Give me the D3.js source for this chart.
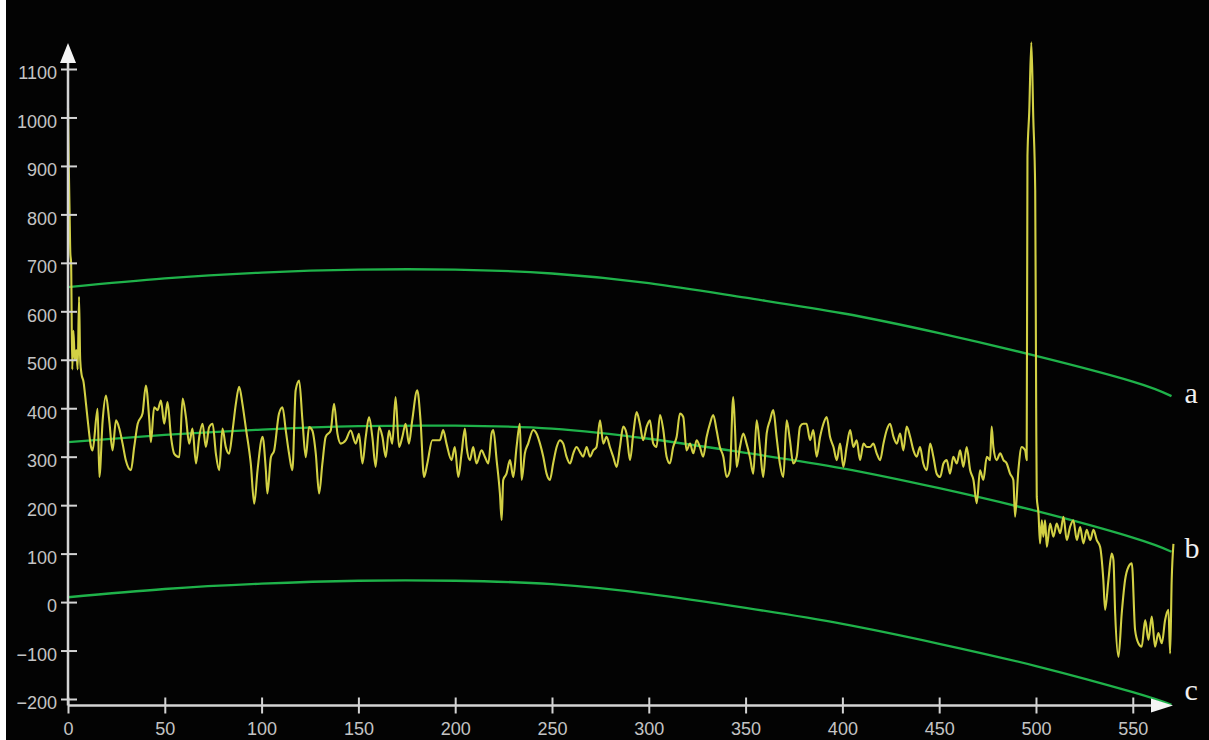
<!DOCTYPE html>
<html>
<head>
<meta charset="utf-8">
<script src="https://cdn.jsdelivr.net/npm/d3@7"></script>
<style>
  html, body { margin: 0; padding: 0; background: #fff; }
  svg { display: block; }
</style>
</head>
<body>
<svg id="canvas"></svg>
<script>
// tick values of both axes
let xTicks = [0, 50, 100, 150, 200, 250, 300, 350, 400, 450, 500, 550]
let yTicks = [-200, -100, 0, 100, 200, 300, 400, 500, 600, 700, 800, 900, 1000, 1100]

// the three green boundary curves, read at these x positions
let curveX = [0, 50, 100, 150, 200, 250, 300, 350, 400, 450, 500, 550, 570]
let curveA = [650, 668, 680, 686, 686, 678, 658, 628, 596, 555, 508, 455, 425]
let curveB = [330, 345, 356, 363, 364, 358, 337, 308, 276, 235, 188, 133, 104]
let curveC = [10, 27, 38, 44, 44, 37, 17, -12, -45, -86, -132, -186, -212]
let curveNames = ['a', 'b', 'c']

// the yellow signal
let signalX = [
    0, 0.4, 0.8, 1.2, 1.6, 2.2, 2.8, 3.5, 4.3, 5.0, 5.7, 6.3, 7, 8, 9.3,
    10.2, 11.9, 12.7, 15.3, 16.2, 17.9, 19.6, 21.3, 23.0, 24.8, 26.5, 28.2, 29.9, 32.5, 34.2, 36.0, 38.5,
    40.2, 42.0, 42.8, 44.5, 46.3, 48.0, 49.7, 51.4, 53.2, 54.9, 57.5, 59.2, 60.9, 62.6, 64.3, 66.1, 67.8,
    69.5, 71.2, 72.9, 74.7, 76.4, 78.1, 79.8, 81.5, 83.2, 85.0, 86.7, 88.4, 90.1, 91.8, 94.4, 96.2, 97.9,
    100.5, 102.2, 103.0, 104.8, 106.5, 109.0, 110.8, 112.5, 114.2, 115.9, 117.6, 119.4, 121.1, 122.8,
    124.5, 126.2, 128.0, 129.7, 131.4, 133.1, 135.7, 137.4, 139.2, 140.9, 143.5, 146.0, 148.6, 150.3,
    152.1, 153.8, 155.5, 157.2, 158.9, 160.7, 162.4, 164.1, 165.8, 167.5, 169.2, 171.0, 172.7, 174.4,
    176.1, 177.8, 180.4, 182.1, 183.9, 185.6, 188.2,
    192.1, 193.8, 195.5, 198.1, 199.8, 201.6, 203.3, 205.0, 205.9, 207.6, 209.3, 211.0, 213.6, 215.3,
    217.1, 218.8, 219.7, 221.4, 223.1, 224.0, 224.8, 226.5, 228.3, 230.0, 231.7, 233.4, 234.3, 236.0,
    237.7, 240.3, 242.0, 243.8, 245.5, 247.2, 248.9, 250.6, 252.4, 254.1, 255.8, 257.5, 259.3, 261.0,
    262.7, 264.4, 266.1, 267.9, 269.6, 271.3, 273.0, 274.8, 276.5, 278.2, 279.9, 281.6, 283.4, 285.1,
    286.8, 288.5, 290.3, 292.0, 293.7, 295.4, 297.1, 298.9, 300.6, 302.3, 304.0, 305.8, 307.5, 309.2,
    310.9, 312.6, 314.4, 316.1, 317.8, 319.5, 321.3, 323.0, 324.7, 326.4, 328.1, 329.9, 331.6, 333.3,
    335.0, 336.7, 338.5, 340.2, 341.9, 343.6, 344.5, 345.4, 347.1, 348.8, 350.5, 352.2, 354.0, 355.7,
    357.4, 359.1, 360.9, 362.6, 364.3, 366.0, 367.7, 369.5, 371.2, 372.9, 374.6, 376.4, 378.1, 379.8, 381.5,
    383.3, 385.0, 386.7, 388.5, 390.2, 391.9, 393.6, 395.4, 397.1, 398.8, 400.5, 402.2, 404.0, 405.7,
    407.4, 409.1, 410.9, 412.6, 414.3, 416.0, 417.7, 419.5, 421.2, 422.9, 424.6, 426.4, 428.1, 429.8,
    431.5, 433.2, 435.0, 436.7, 438.4, 440.1, 441.8, 443.6, 445.3, 447.0, 448.7, 450.5, 452.2, 453.9,
    455.6, 457.3, 459.1, 460.8, 462.5, 464.2, 466.0, 467.7, 469.4, 471.1, 472.8, 474.6, 476.3, 477.1,
    478.0, 479.7, 481.5, 483.2, 484.9, 486.6, 488.3, 489.2, 490.9, 492.6, 494.4, 495.2,
    495.6, 496.5, 497.6, 498.6, 499.6, 500.1, 500.4,
    501.3, 502.1, 503.0, 503.8, 504.7, 505.6, 507.3, 509.0, 510.7, 512.5, 514.2, 515.9, 517.6, 519.3,
    521.1, 522.8, 524.5, 526.2, 528.0, 529.7, 531.4, 533.1, 534.8, 535.7, 537.4, 539.1, 540.0, 540.9,
    542.6, 544.3, 546.0, 547.8, 549.5, 551.2, 552.9, 554.6, 556.4, 558.1, 559.8, 561.5, 563.2, 565.0,
    566.7, 568.4, 569.3, 570.1, 571.0
]
let signalY = [
    1020, 900, 810, 720, 700, 480, 560, 500, 520, 480, 630, 500, 470, 455, 409,
    375, 320, 313, 399, 258, 375, 426, 375, 313, 375, 358, 327, 292, 272, 320, 368, 389,
    447, 375, 330, 402, 396, 416, 368, 413, 341, 306, 299, 420, 382, 327, 358, 286, 341,
    368, 320, 361, 368, 306, 272, 358, 320, 306, 354, 409, 444, 409, 361, 286, 203, 272,
    341, 272, 224, 299, 313, 389, 402, 354, 306, 272, 437, 457, 375, 299,
    361, 354, 306, 224, 286, 341, 354, 409, 347, 327, 334, 354, 327, 347,
    286, 341, 382, 341, 279, 361, 341, 299, 354, 327, 423, 320, 341, 368,
    327, 375, 437, 375, 258, 286, 334,
    334, 355, 327, 293, 320, 258, 307, 358, 320, 293, 320, 286, 313, 300,
    286, 348, 355, 293, 224, 169, 252, 265, 293, 258, 320, 368, 252, 307,
    327, 355, 348, 327, 300, 265, 252, 286, 320, 334, 327, 300, 286, 307,
    320, 310, 300, 320, 300, 313, 320, 375, 327, 341, 320, 300, 279, 320,
    362, 348, 293, 348, 392, 368, 334, 362, 375, 327, 320, 386, 355, 300,
    286, 320, 341, 389, 382, 313, 327, 307, 334, 320, 300, 341, 368, 386,
    355, 320, 300, 258, 272, 423, 362, 279, 320, 348, 327, 300, 265, 375,
    320, 258, 348, 375, 396, 341, 286, 258, 375, 334, 286, 300, 362, 368, 368,
    334, 355, 300, 341, 368, 382, 341, 320, 293, 327, 279, 320, 355, 320,
    334, 293, 327, 320, 320, 327, 307, 293, 327, 355, 368, 341, 327, 348,
    313, 362, 341, 313, 300, 320, 286, 272, 327, 300, 265, 258, 286, 293,
    265, 300, 286, 313, 279, 320, 272, 252, 204, 272, 252, 300, 293, 362,
    320, 293, 307, 293, 286, 265, 252, 176, 272, 320, 313, 293,
    920, 1010, 1155, 1000, 850, 400, 217,
    183, 121, 169, 135, 169, 114, 162, 135, 162, 142, 176, 128, 155, 169,
    128, 155, 121, 149, 128, 149, 128, 114, 45, -16, 45, 100, 87, -23,
    -113, -23, 45, 73, 80, -58, -85, -92, -37, -78, -30, -92, -64, -85,
    -37, -16, -106, 45, 120
]

let width = 1209
let height = 740

let canvas = d3.select('#canvas')
    .attr('width', width)
    .attr('height', height)

let xScale = d3.scaleLinear().domain([0, 570]).range([68, 1171.5])
let yScale = d3.scaleLinear().domain([-200, 1100]).range([699, 69])

let axisY = 705.5
let axisColor = '#d4d4d4'
let labelColor = '#c4c4c4'

canvas.append('rect')
      .attr('x', 6)
      .attr('y', 0)
      .attr('width', width - 6)
      .attr('height', height)
      .attr('fill', '#030303')

// green curves
let curveData = [curveA, curveB, curveC]
let curveLine = d3.line()
    .x((d, i) => xScale(curveX[i]))
    .y((d) => yScale(d))
    .curve(d3.curveNatural)

canvas.selectAll('path.bound')
      .data(curveData)
      .enter()
      .append('path')
      .attr('class', 'bound')
      .attr('d', curveLine)
      .attr('fill', 'none')
      .attr('stroke', '#1fb24a')
      .attr('stroke-width', 2.3)

// signal
let signalLine = d3.line()
    .x((d, i) => xScale(signalX[i]))
    .y((d) => yScale(d))
    .curve(d3.curveMonotoneX)

canvas.append('path')
      .datum(signalY)
      .attr('d', signalLine)
      .attr('fill', 'none')
      .attr('stroke', '#d2d044')
      .attr('stroke-width', 2.1)
      .attr('stroke-linejoin', 'round')

// axes
let yAxis = d3.axisLeft(yScale).tickValues(yTicks).tickSize(7).tickFormat(d3.format('d'))
let yAxisGroup = canvas.append('g')
    .attr('transform', 'translate(' + xScale(0) + ',0)')
    .call(yAxis)
yAxisGroup.select('.domain').remove()
yAxisGroup.selectAll('.tick line')
    .attr('x1', 9)
    .attr('stroke', axisColor)
    .attr('stroke-width', 2)
yAxisGroup.selectAll('.tick text')
    .attr('x', -11)
    .attr('dy', '0.55em')
    .attr('fill', labelColor)
    .style('font-family', 'Liberation Sans, Arial, sans-serif')
    .style('font-size', '18px')

let xAxis = d3.axisBottom(xScale).tickValues(xTicks).tickSize(8)
let xAxisGroup = canvas.append('g')
    .attr('transform', 'translate(0,' + axisY + ')')
    .call(xAxis)
xAxisGroup.select('.domain').remove()
xAxisGroup.selectAll('.tick line')
    .attr('y1', -8)
    .attr('stroke', axisColor)
    .attr('stroke-width', 2)
xAxisGroup.selectAll('.tick text')
    .attr('y', 17)
    .attr('dy', '0.71em')
    .attr('fill', labelColor)
    .style('font-family', 'Liberation Sans, Arial, sans-serif')
    .style('font-size', '18px')

let x0 = xScale(0)
let arrowX = 1173
let arrowY = 43

canvas.append('line')
      .attr('x1', x0).attr('y1', axisY)
      .attr('x2', x0).attr('y2', arrowY + 10)
      .attr('stroke', axisColor)
      .attr('stroke-width', 2.5)
canvas.append('line')
      .attr('x1', x0).attr('y1', axisY)
      .attr('x2', arrowX - 10).attr('y2', axisY)
      .attr('stroke', axisColor)
      .attr('stroke-width', 2.5)

canvas.append('path')
      .attr('d', 'M' + x0 + ',' + arrowY + 'L' + (x0 + 8) + ',' + (arrowY + 20) + 'L' + (x0 - 8) + ',' + (arrowY + 20) + 'Z')
      .attr('fill', '#f4f4f4')
canvas.append('path')
      .attr('d', 'M' + arrowX + ',' + axisY + 'L' + (arrowX - 22) + ',' + (axisY - 7) + 'L' + (arrowX - 22) + ',' + (axisY + 7) + 'Z')
      .attr('fill', '#f4f4f4')

// curve names at the right ends
let nameOffsets = [7, 6, -5]
canvas.selectAll('text.name')
      .data(curveNames)
      .enter()
      .append('text')
      .attr('class', 'name')
      .attr('x', xScale(570) + 13)
      .attr('y', (d, i) => yScale(curveData[i][curveData[i].length - 1]) + nameOffsets[i])
      .attr('fill', '#f0f0f0')
      .style('font-family', 'Liberation Serif, Times New Roman, serif')
      .style('font-size', '30px')
      .text((d) => d)
</script>
</body>
</html>
